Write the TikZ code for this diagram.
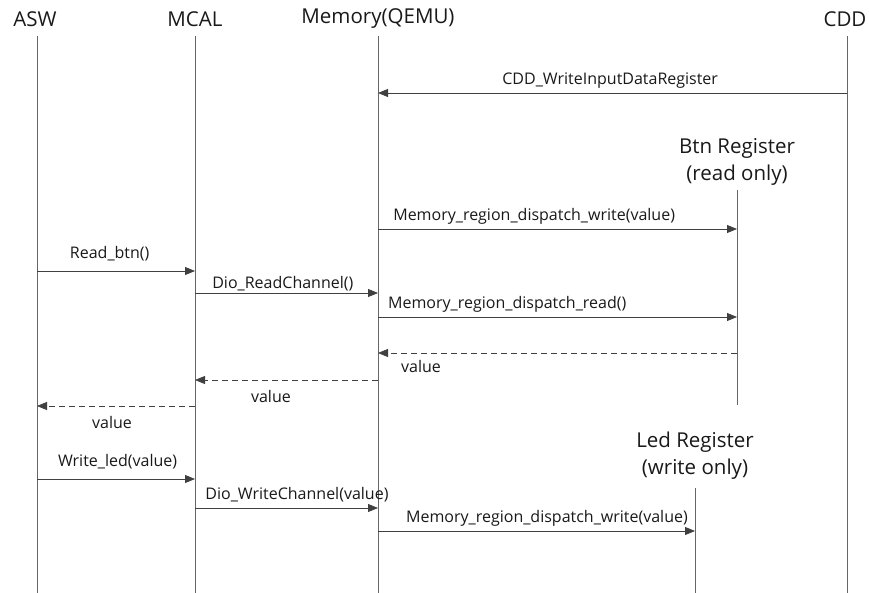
\documentclass[tikz,border=0pt]{standalone}
\usepackage{fontspec}
\setmainfont{Open Sans}
\usetikzlibrary{arrows.meta,positioning}

\begin{document}
\begin{tikzpicture}[
    x=1pt, y=-1pt,
    head/.style={font=\fontsize{20.5}{27}\selectfont, inner sep=0pt, align=center, text=black!90},
    life/.style={draw=black!60, line width=0.8pt},
    msg/.style={-{Triangle[length=10pt,width=8pt]}, draw=black!75, line width=0.8pt},
    reply/.style={msg, dash pattern=on 6pt off 4pt},
    lbl/.style={font=\fontsize{16}{18}\selectfont, inner sep=4pt, text=black!90}
]
\useasboundingbox (0,0) rectangle (869,593);

% Lifelines
\node[head] (aswh) at (35,19) {ASW};
\node[head] (mcalh) at (195,19) {MCAL};
\node[head] (memh) at (378,19) {Memory(QEMU)};
\node[head] (cddh) at (845,19) {CDD};
\node[head] (btnh) at (737,162) {Btn Register\\(read only)};
\node[head] (ledh) at (695,456) {Led Register\\(write only)};

\coordinate (asw) at (37,36);   \coordinate (aswend) at (37,593);
\coordinate (mcal) at (195,36); \coordinate (mcalend) at (195,593);
\coordinate (mem) at (378,36);  \coordinate (memend) at (378,593);
\coordinate (cdd) at (847,36);  \coordinate (cddend) at (847,593);
\coordinate (btn) at (737,190); \coordinate (btnend) at (737,405);
\coordinate (led) at (695,488); \coordinate (ledend) at (695,593);

\draw[life] (asw) -- (aswend);
\draw[life] (mcal) -- (mcalend);
\draw[life] (mem) -- (memend);
\draw[life] (cdd) -- (cddend);
\draw[life] (btn) -- (btnend);
\draw[life] (led) -- (ledend);

% Message levels
\coordinate (m1) at (0,93);
\coordinate (m2) at (0,229);
\coordinate (m3) at (0,271);
\coordinate (m4) at (0,293);
\coordinate (m5) at (0,317);
\coordinate (m6) at (0,353);
\coordinate (m7) at (0,380);
\coordinate (m8) at (0,406);
\coordinate (m9) at (0,479);
\coordinate (m10) at (0,508);
\coordinate (m11) at (0,531);

% Arrows
\draw[msg] (cdd |- m1) -- node[lbl, above, pos=0.505] {CDD\_WriteInputDataRegister} (mem |- m1);
\draw[msg] (mem |- m2) -- node[lbl, above, pos=0.435] {Memory\_region\_dispatch\_write(value)} (btn |- m2);
\draw[msg] (asw |- m3) -- node[lbl, above, pos=0.46, yshift=6pt] {Read\_btn()} (mcal |- m3);
\draw[msg] (mcal |- m4) -- node[lbl, above, pos=0.48, inner sep=2pt] {Dio\_ReadChannel()} (mem |- m4);
\draw[msg] (mem |- m5) -- node[lbl, above, pos=0.36] {Memory\_region\_dispatch\_read()} (btn |- m5);
\draw[reply] (btn |- m6) -- node[lbl, below, pos=0.88, yshift=-3pt] {value} (mem |- m6);
\draw[reply] (mem |- m7) -- node[lbl, below, pos=0.585, yshift=-6pt] {value} (mcal |- m7);
\draw[reply] (mcal |- m8) -- node[lbl, below, pos=0.525, yshift=-6pt] {value} (asw |- m8);
\draw[msg] (asw |- m9) -- node[lbl, above, pos=0.51, yshift=6pt] {Write\_led(value)} (mcal |- m9);
\draw[msg] (mcal |- m10) -- node[lbl, above, pos=0.557, yshift=2pt] {Dio\_WriteChannel(value)} (mem |- m10);
\draw[msg] (mem |- m11) -- node[lbl, above, pos=0.533] {Memory\_region\_dispatch\_write(value)} (led |- m11);

\end{tikzpicture}
\end{document}
